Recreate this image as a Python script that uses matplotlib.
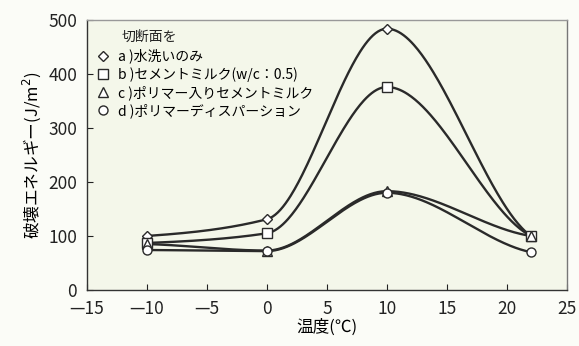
import numpy as np
import matplotlib
matplotlib.use('Agg')
import matplotlib.pyplot as plt

plt.rcParams['font.family'] = ['Noto Sans CJK JP', 'DejaVu Sans']

# data
temps = [-10, 0, 10, 22]
a_water = [100, 131, 484, 100]
b_cement = [87, 105, 376, 100]
c_polymer_cement = [85, 73, 183, 100]
d_dispersion = [74, 72, 180, 70]

labels = ['a )水洗いのみ', 'b )セメントミルク(w/c：0.5)',
          'c )ポリマー入りセメントミルク', 'd )ポリマーディスパーション']
markers = ['D', 's', '^', 'o']
xticks = [-15, -10, -5, 0, 5, 10, 15, 20, 25]
xticklabels = ['—15', '—10', '—5', '0', '5', '10', '15', '20', '25']
yticks = [0, 100, 200, 300, 400, 500]


def smooth(x, y, n=300):
    # monotone cubic (PCHIP) just to draw a smooth line through the points
    x = np.asarray(x, float)
    y = np.asarray(y, float)
    h = np.diff(x)
    d = np.diff(y) / h
    m = np.zeros_like(y)
    for i in range(1, len(x) - 1):
        if d[i - 1] * d[i] > 0:
            w1 = 2 * h[i] + h[i - 1]
            w2 = h[i] + 2 * h[i - 1]
            m[i] = (w1 + w2) / (w1 / d[i - 1] + w2 / d[i])
    m[0] = d[0] * 0.5
    m[-1] = d[-1] * 0.5
    xs = np.linspace(x[0], x[-1], n)
    idx = np.clip(np.searchsorted(x, xs) - 1, 0, len(x) - 2)
    t = (xs - x[idx]) / h[idx]
    h00 = 2 * t ** 3 - 3 * t ** 2 + 1
    h10 = t ** 3 - 2 * t ** 2 + t
    h01 = -2 * t ** 3 + 3 * t ** 2
    h11 = t ** 3 - t ** 2
    ys = h00 * y[idx] + h10 * h[idx] * m[idx] + h01 * y[idx + 1] + h11 * h[idx] * m[idx + 1]
    return xs, ys


fig = plt.figure(figsize=(5.79, 3.46), dpi=100)
fig.patch.set_facecolor('#fbfcf7')
ax = fig.add_axes([0.150, 0.162, 0.829, 0.780])
ax.set_facecolor('#f4f7ea')

series = [a_water, b_cement, c_polymer_cement, d_dispersion]
handles = []
for vals, mk, lab in zip(series, markers, labels):
    xs, ys = smooth(temps, vals)
    ax.plot(xs, ys, color='#2a2a2a', lw=1.7, zorder=2)
    ms = 5 if mk == 'D' else 6.5
    h, = ax.plot(temps, vals, linestyle='none', marker=mk, ms=ms,
                 mfc='white', mec='#2a2a2a', mew=1.0, zorder=3, label=lab)
    handles.append(h)

ax.set_xlim(-15, 25)
ax.set_ylim(0, 500)
ax.set_xticks(xticks)
ax.set_xticklabels(xticklabels)
ax.set_yticks(yticks)
ax.tick_params(direction='in', length=4, labelsize=12.5, colors='#222222')
ax.tick_params(axis='x', pad=7)
ax.tick_params(axis='y', pad=7)
for sp in ax.spines.values():
    sp.set_color('#333333')
    sp.set_linewidth(1.0)
ax.spines['top'].set_color('#999999')
ax.spines['right'].set_color('#777777')

ax.set_xlabel('温度(℃)', fontsize=12, labelpad=1)
ax.set_ylabel('破壊エネルギー(J/m$^2$)', fontsize=12, labelpad=4)

ax.text(0.073, 0.965, '切断面を', transform=ax.transAxes, fontsize=10,
        va='top', ha='left', color='#222222')
leg = ax.legend(handles=handles, loc='upper left',
                bbox_to_anchor=(0.01, 0.915), frameon=False, fontsize=10,
                handlelength=0.8, handletextpad=0.7,
                labelspacing=0.25, borderaxespad=0.0)

fig.savefig('out.png', dpi=100, facecolor=fig.get_facecolor())
